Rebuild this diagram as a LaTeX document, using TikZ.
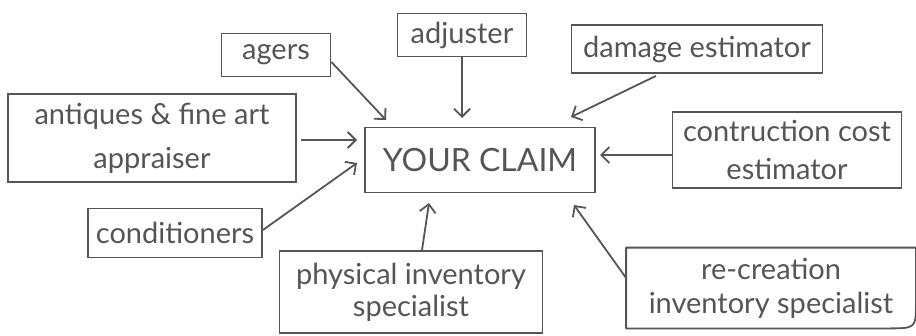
\documentclass[tikz,border=0pt]{standalone}
\usepackage{fontspec}
\setmainfont{Lato}
\usetikzlibrary{arrows.meta}
\definecolor{ink}{HTML}{555555}
\begin{document}
\begin{tikzpicture}[x=1pt,y=-1pt,
  box/.style={draw=ink, line width=1.8pt, text=ink, inner sep=0pt, align=center,
    font=\fontsize{29}{34}\selectfont},
  conn/.style={draw=ink, line width=1.8pt, -{Straight Barb[length=8pt,width=16pt,line width=1.8pt]}}]
\useasboundingbox (0,0) rectangle (916,335);
\node[box, minimum width=230pt, minimum height=65pt, font=\fontsize{32}{36}\selectfont] (claim) at (480,160) {YOUR CLAIM};
\node[box, minimum width=109pt, minimum height=43pt] (agers) at (276,55) {agers};
\node[box, minimum width=129pt, minimum height=43pt] (adj) at (462,35) {adjuster};
\node[box, minimum width=251pt, minimum height=48pt] (dmg) at (697,49) {damage estimator};
\node[box, minimum width=288pt, minimum height=88pt, font=\fontsize{29}{44}\selectfont] (ant) at (152,138) {antiques \& fine art\\appraiser};
\node[box, minimum width=229pt, minimum height=76pt, font=\fontsize{29}{38}\selectfont] (con) at (787,150) {contruction cost\\estimator};
\node[box, minimum width=174pt, minimum height=49pt] (cond) at (175,233) {conditioners};
\node[box, minimum width=263pt, minimum height=82pt, font=\fontsize{29}{32}\selectfont] (phys) at (411,292) {physical inventory\\specialist};
\node[box, draw=none, minimum width=288pt, minimum height=79pt] (rec) at (771,288) {re-creation\\inventory specialist};
\draw[draw=ink, line width=1.8pt, line join=round] (rec.south west) -- (rec.north west) -- (rec.north east) -- ([yshift=24pt]rec.south east) .. controls (rec.south east) .. ([xshift=-30pt]rec.south east) -- cycle;
\coordinate (t1) at (386,120);
\coordinate (t2) at (462,118);
\coordinate (t3) at (571,117);
\coordinate (t4) at (357,140);
\coordinate (t5) at (357,163);
\coordinate (t6) at (600,155);
\coordinate (t7) at (429,203);
\coordinate (t8) at (574,205);
\draw[conn] (agers.east) ++(0,7) -- (t1);
\draw[conn] (adj.south) -- (t2);
\draw[conn] (dmg.south) ++(-41,2) -- (t3);
\draw[conn] (ant.east) ++(4,2) -- (t4);
\draw[conn] (cond.east) ++(0,-3) -- (t5);
\draw[conn] (con.west) ++(0,5) -- (t6);
\draw[conn] (phys.north) ++(11,0) -- (t7);
\draw[conn] (rec.west) ++(0,-10) -- (t8);
\end{tikzpicture}
\end{document}
